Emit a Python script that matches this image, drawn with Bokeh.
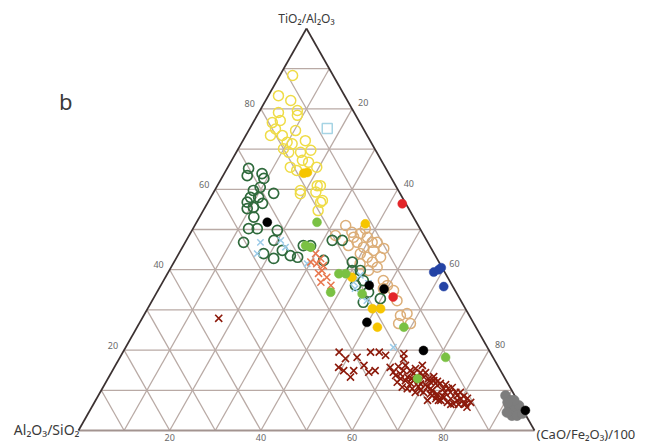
import numpy as np
from bokeh.plotting import figure
from bokeh.models import Range1d
from bokeh.embed import file_html
from bokeh.resources import INLINE
from bokeh.core.properties import value

# ---- ternary data: TiO2/Al2O3 (%) (top apex), (CaO/Fe2O3)/100 (%) (right vertex);
#      Al2O3/SiO2 = 100 - the two others (left vertex)
axis_top = "TiO₂/Al₂O₃"
axis_left = "Al₂O₃/SiO₂"
axis_right = "(CaO/Fe₂O₃)/100"
panel_label = "b"
tick_values = [20, 40, 60, 80]
grid_levels = [10, 20, 30, 40, 50, 60, 70, 80, 90]

yellow_open_ti = [79.6, 75.0, 73.4, 71.7, 71.3, 69.2, 69.2, 67.2, 65.5, 66.7, 65.5, 60.9, 59.3, 59.7, 78.4, 76.6,
                  77.1, 73.4, 74.6, 72.1, 69.7, 64.7, 57.2, 54.7, 70.1, 79.1, 82.1, 88.3, 83.3, 58.9, 60.9, 56.8]
yellow_open_ca = [8.2, 5.7, 8.0, 9.9, 11.2, 11.5, 14.1, 15.5, 13.7, 17.1, 19.5, 22.6, 22.4, 18.8, 8.8, 4.2,
                  5.7, 5.4, 10.3, 13.7, 16.1, 15.5, 24.9, 25.2, 9.9, 4.3, 5.5, 2.8, 2.2, 19.2, 21.9, 24.7]

tan_open_ti = [49.3, 49.0, 48.1, 46.8, 46.8, 45.6, 44.8, 43.1, 43.1, 44.0, 41.9, 40.6, 39.8, 48.1, 46.0, 46.8,
               45.3, 48.5, 41.5, 37.3, 36.1, 34.8, 32.3, 35.3, 29.1, 28.6, 26.6, 26.6, 51.0, 50.2]
tan_open_ca = [35.3, 37.3, 39.3, 41.0, 37.7, 39.7, 42.3, 44.7, 41.8, 39.8, 43.5, 45.2, 43.7, 36.3, 36.2, 42.1,
               44.3, 32.1, 41.0, 48.2, 49.7, 51.7, 53.7, 49.2, 57.5, 56.3, 56.9, 59.5, 33.1, 37.8]

green_open_ti = [65.2, 63.9, 62.7, 63.4, 60.5, 59.7, 58.0, 58.0, 56.8, 56.5, 55.5, 59.0, 55.2, 53.1, 50.2, 50.2,
                 49.8, 47.3, 46.8, 44.8, 44.0, 42.8, 43.5, 43.1, 46.0, 46.0, 47.3, 47.3, 42.3, 41.9, 39.8, 39.8,
                 37.3, 36.1, 34.4, 31.9, 32.8]
green_open_ca = [4.7, 8.3, 9.3, 5.3, 9.6, 8.5, 8.7, 10.5, 8.6, 12.1, 10.6, 13.3, 9.4, 11.9, 12.2, 14.1,
                 18.7, 19.2, 12.8, 22.3, 18.6, 21.4, 24.7, 26.5, 26.3, 27.9, 32.0, 34.2, 32.6, 39.1, 41.9, 40.1,
                 43.8, 42.7, 46.4, 46.5, 49.8]

lightblue_sq_ti = [75.1]
lightblue_sq_ca = [17.0]

lightblue_x_ti = [46.8, 47.3, 44.0, 45.6, 41.5, 38.6, 36.9, 35.3, 36.6, 33.2, 32.3, 20.7]
lightblue_x_ca = [16.5, 20.7, 17.2, 22.6, 29.4, 42.5, 41.9, 43.0, 45.3, 45.6, 47.1, 58.7]

orange_x_ti = [44.0, 42.8, 41.5, 39.8, 39.1, 38.1, 36.9, 36.1, 41.9, 41.0]
orange_x_ca = [30.0, 31.7, 31.5, 33.5, 33.1, 35.4, 34.7, 37.3, 30.0, 33.2]

darkred_x_ti = [27.9, 19.5, 15.7, 14.9, 14.9, 16.2, 14.5, 14.9, 19.5, 19.5, 18.7, 17.8, 19.1, 16.2, 14.5, 14.1,
                13.3, 12.4, 11.6, 10.8, 10.0, 9.1, 8.3, 7.9, 7.5, 6.6, 5.8, 10.4, 9.5, 7.5, 7.9, 13.3,
                13.3, 12.0, 11.2, 10.4, 9.5, 8.7, 12.0, 10.8, 9.5, 8.7, 7.5, 7.0, 6.6, 18.2, 13.3, 15.7,
                14.9, 14.2, 12.4, 7.9, 6.6, 9.1, 10.0, 7.5, 11.7, 10.9, 17.9,
                15.9, 16.2, 14.9, 15.4, 14.4, 14.4, 12.9, 13.4, 12.2, 11.7, 11.4, 10.4, 10.7, 9.5, 9.5, 8.5,
                8.0, 7.0, 6.5, 6.5, 8.5, 8.5, 10.4, 11.4, 12.4, 12.9, 12.4, 12.9, 13.7, 10.4, 9.5]
darkred_x_ca = [16.8, 47.4, 49.2, 50.7, 52.9, 54.5, 56.4, 57.6, 54.3, 56.2, 58.0, 62.4, 61.8, 67.3, 61.8, 63.5,
                65.5, 67.3, 69.2, 71.1, 72.6, 74.1, 76.0, 77.7, 79.3, 81.2, 82.3, 66.9, 69.1, 72.8, 74.4, 67.7,
                69.1, 71.2, 73.1, 74.9, 76.8, 78.7, 63.9, 65.6, 70.9, 73.2, 75.7, 77.4, 79.0, 52.0, 53.0, 60.5,
                63.8, 66.4, 71.7, 79.9, 81.6, 72.6, 70.0, 75.2, 67.0, 69.1, 49.6,
                62.2, 63.6, 65.3, 66.2, 67.8, 68.9, 70.3, 71.2, 72.6, 73.5, 74.8, 75.9, 76.6, 78.0, 79.0, 80.2,
                81.3, 82.5, 80.1, 78.4, 75.6, 74.3, 72.0, 70.4, 68.4, 66.6, 65.5, 64.2, 62.7, 68.0, 75.6]

gray_ti = [8.7, 7.5, 6.2, 5.4, 6.2, 3.7, 3.7, 4.2, 7.5, 7.0, 4.5]
gray_ca = [89.3, 91.0, 91.3, 92.8, 93.5, 93.2, 94.3, 95.2, 91.8, 90.6, 91.7]

blue_ti = [39.4, 40.0, 40.5, 35.8]
blue_ca = [58.2, 59.0, 59.3, 62.2]

red_ti = [56.4, 33.2]
red_ca = [42.8, 52.4]

yellow_fill_ti = [64.0, 64.2, 51.4, 38.1, 30.3, 30.3, 25.7]
yellow_fill_ca = [17.4, 18.1, 37.2, 40.9, 49.3, 51.1, 52.7]

green_fill_ti = [51.8, 45.6, 46.0, 39.0, 39.0, 34.4, 34.0, 25.7, 12.9, 18.2]
green_fill_ca = [26.4, 28.1, 26.8, 37.6, 39.1, 38.1, 45.2, 58.5, 67.9, 71.4]

black_ti = [51.8, 36.1, 35.2, 26.9, 19.9, 5.0]
black_ca = [15.5, 45.7, 49.4, 49.8, 65.7, 95.5]


def tern(ti, ca):
    ti = np.asarray(ti, dtype=float)
    ca = np.asarray(ca, dtype=float)
    return (ca + ti / 2.0) / 100.0, ti / 100.0


# ---- figure: unit triangle, left vertex (0,0), right (1,0), apex (0.5,1)
W, H = 646, 445
p = figure(width=W, height=H, output_backend="svg", toolbar_location=None,
           x_axis_type=None, y_axis_type=None, min_border=0,
           x_range=Range1d(-0.17105, 1.24561), y_range=Range1d(-0.03731, 1.06965))
p.outline_line_color = None
p.grid.visible = False
p.background_fill_color = "white"

# grid lines
grid_col = "#b9aaa5"
gxs, gys = [], []
for g in grid_levels:
    x, y = tern([g, g], [0, 100 - g]); gxs.append(list(x)); gys.append(list(y))
    x, y = tern([0, 100 - g], [g, g]); gxs.append(list(x)); gys.append(list(y))
    x, y = tern([0, 100 - g], [100 - g, 0]); gxs.append(list(x)); gys.append(list(y))
p.multi_line(gxs, gys, line_color=grid_col, line_width=1.3)

# outer frame
bx, by = tern([0, 0], [0, 100])
p.line(bx, by, line_color="#a39490", line_width=2.2)
lx, ly = tern([0, 100], [0, 0])
p.line(lx, ly, line_color="#3b3131", line_width=1.7)
rx, ry = tern([100, 0], [0, 100])
p.line(rx, ry, line_color="#3b3131", line_width=1.7)

# ---- data
def sc(ti, ca, marker, size, lc, fc=None, lw=1.6):
    x, y = tern(ti, ca)
    p.scatter(x, y, marker=marker, size=size, line_color=lc, fill_color=fc,
              line_width=lw, fill_alpha=1.0 if fc else 0)

sc(yellow_open_ti, yellow_open_ca, "circle", 10, "#efdc46", lw=1.5)
sc(tan_open_ti, tan_open_ca, "circle", 10, "#dcae78", lw=1.5)
sc(green_open_ti, green_open_ca, "circle", 10, "#2f6a3c", lw=1.7)
sc(lightblue_sq_ti, lightblue_sq_ca, "square", 10, "#a6d4e4", lw=1.5)
sc(lightblue_x_ti, lightblue_x_ca, "x", 9, "#9ccbe8", lw=1.5)
sc(orange_x_ti, orange_x_ca, "x", 10, "#e8774e", lw=1.5)
sc(darkred_x_ti, darkred_x_ca, "x", 10, "#8c1a0b", lw=1.6)
sc(gray_ti, gray_ca, "circle", 10, "#7d7d7d", "#7d7d7d", lw=0.5)
sc(blue_ti, blue_ca, "circle", 9, "#2443a5", "#2443a5", lw=0.5)
sc(red_ti, red_ca, "circle", 9, "#e3262a", "#e3262a", lw=0.5)
sc(yellow_fill_ti, yellow_fill_ca, "circle", 9, "#f6c500", "#f6c500", lw=0.5)
sc(green_fill_ti, green_fill_ca, "circle", 9, "#7ac143", "#7ac143", lw=0.5)
sc(black_ti, black_ca, "circle", 9, "#000000", "#000000", lw=0.5)

# ---- tick labels
tv = np.array(tick_values, dtype=float)
tick_font = value("Noto Sans")
tick_col = "#6a6a6a"
labels = [str(v) for v in tick_values]
x, y = tern(tv, tv * 0)
p.text(x, y, text=labels, text_font=tick_font, text_font_size="9px",
       text_color=tick_col, text_align="right", text_baseline="middle", x_offset=-6, y_offset=-5)
x, y = tern(100 - tv, tv)
p.text(x, y, text=labels, text_font=tick_font, text_font_size="9px",
       text_color=tick_col, text_align="left", text_baseline="middle", x_offset=6, y_offset=-6)
x, y = tern(tv * 0, tv)
p.text(x, y, text=labels, text_font=tick_font, text_font_size="9px",
       text_color=tick_col, text_align="center", text_baseline="top", x_offset=0, y_offset=3)

# ---- axis titles
font = value("Noto Sans")
ax_, ay_ = tern([100], [0])
p.text(ax_, ay_, text=[axis_top], text_font=font, text_font_size="12px", text_color="#3a3a3a",
       text_align="center", text_baseline="middle", y_offset=-10)
ax_, ay_ = tern([0], [0])
p.text(ax_, ay_, text=[axis_left], text_font=font, text_font_size="14px", text_color="#3a3a3a",
       text_align="right", text_baseline="alphabetic", x_offset=1, y_offset=-1)
ax_, ay_ = tern([0], [100])
p.text(ax_, ay_, text=[axis_right], text_font=font, text_font_size="13px", text_color="#3a3a3a",
       text_align="left", text_baseline="alphabetic", x_offset=2, y_offset=3)
p.text([-0.028], [0.82], text=[panel_label], text_font=font, text_font_size="22px",
       text_color="#3a3a3a", text_align="center", text_baseline="middle")

open("out.html", "w").write(file_html(p, INLINE))
